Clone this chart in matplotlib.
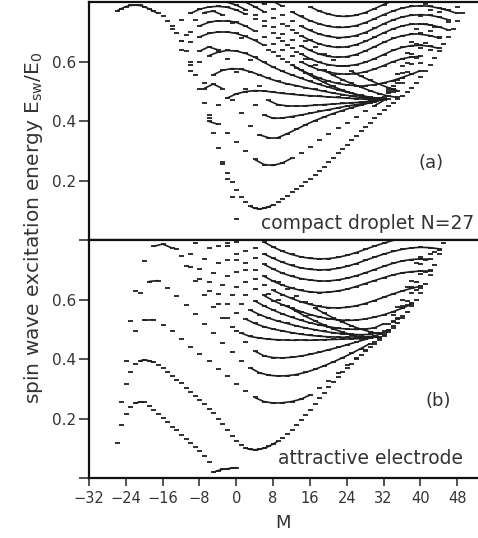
import numpy as np
import matplotlib.pyplot as plt
from matplotlib.collections import LineCollection

# x ticks (angular momentum M) and y ticks (E_sw / E_0)
m_ticks = [-32, -24, -16, -8, 0, 8, 16, 24, 32, 40, 48]
e_ticks = [0, 0.2, 0.4, 0.6]

# ---- panel (a): compact droplet N=27 ----
# each curve: first M, M step, energies
a0 = [0.770, 0.778, 0.785, 0.789, 0.790, 0.789, 0.785, 0.778, 0.770, 0.762, 0.752, 0.738, 0.720, 0.697,
      0.668, 0.635, 0.598, 0.555, 0.510, 0.462, 0.412, 0.360, 0.310, 0.258, 0.205, 0.145, 0.072]
a1 = [0.262, 0.228, 0.196, 0.170, 0.147, 0.128, 0.115, 0.108, 0.106, 0.108, 0.113, 0.120, 0.130, 0.140,
      0.151, 0.162, 0.173, 0.184, 0.196, 0.208, 0.221, 0.234, 0.248, 0.262, 0.277, 0.292, 0.307, 0.322,
      0.337, 0.352, 0.367, 0.382, 0.396, 0.410, 0.424, 0.437, 0.450, 0.462, 0.474, 0.486, 0.499, 0.513,
      0.530, 0.549, 0.569, 0.590, 0.612, 0.635, 0.659, 0.684, 0.710, 0.737, 0.765]
a2 = [0.40, 0.39, 0.36, 0.33, 0.30, 0.272, 0.255, 0.252, 0.26, 0.276, 0.295, 0.315, 0.336, 0.356, 0.376,
      0.395, 0.414, 0.433, 0.452, 0.47, 0.497, 0.527, 0.56, 0.597, 0.638, 0.683, 0.732, 0.785]
a3 = [0.51, 0.525, 0.51, 0.472, 0.428, 0.385, 0.355, 0.345, 0.345, 0.358, 0.373, 0.388, 0.402, 0.414, 0.426,
      0.436, 0.446, 0.454, 0.462, 0.47, 0.495, 0.528, 0.567, 0.612, 0.662, 0.717, 0.777, 0.84]
a4 = [0.59, 0.635, 0.65, 0.64, 0.61, 0.565, 0.51, 0.455, 0.422, 0.41, 0.411, 0.416, 0.421, 0.427, 0.433,
      0.439, 0.445, 0.451, 0.456, 0.461, 0.466, 0.474, 0.505, 0.545, 0.592, 0.645, 0.704, 0.768, 0.835]
a5 = [0.69, 0.74, 0.765, 0.77, 0.757, 0.73, 0.68, 0.605, 0.52, 0.47, 0.456, 0.452, 0.451, 0.452, 0.454,
      0.456, 0.458, 0.46, 0.462, 0.464, 0.467, 0.47, 0.497, 0.54, 0.595, 0.658, 0.728, 0.80]
a6 = [0.42, 0.455, 0.478, 0.492, 0.50, 0.503, 0.502, 0.498, 0.494, 0.491, 0.488, 0.486, 0.484, 0.482, 0.48,
      0.478, 0.476, 0.474, 0.472, 0.475, 0.51, 0.562, 0.625, 0.697, 0.775, 0.855]
a7 = [0.528, 0.556, 0.571, 0.577, 0.575, 0.567, 0.556, 0.544, 0.534, 0.526, 0.52, 0.513, 0.507, 0.501, 0.495,
      0.49, 0.485, 0.48, 0.476, 0.474, 0.505, 0.56, 0.63, 0.71, 0.795]
a8 = [0.57, 0.60, 0.62, 0.632, 0.638, 0.636, 0.628, 0.615, 0.598, 0.582, 0.568, 0.556, 0.545, 0.534, 0.524,
      0.515, 0.506, 0.498, 0.49, 0.483, 0.477, 0.48, 0.52, 0.585, 0.665, 0.755, 0.85]
a9 = [0.64, 0.665, 0.683, 0.695, 0.70, 0.70, 0.695, 0.685, 0.672, 0.655, 0.632, 0.61, 0.59, 0.573, 0.558,
      0.545, 0.535, 0.527, 0.522, 0.52, 0.52, 0.523, 0.529, 0.537, 0.547, 0.558, 0.57]
a10 = [0.67, 0.70, 0.72, 0.732, 0.738, 0.738, 0.732, 0.72, 0.703, 0.683, 0.66, 0.638, 0.618, 0.60, 0.585,
       0.573, 0.565, 0.56, 0.558, 0.56, 0.566, 0.575, 0.587, 0.60, 0.61, 0.616, 0.618]
a11 = [0.71, 0.74, 0.762, 0.776, 0.784, 0.786, 0.783, 0.774, 0.76, 0.742, 0.72, 0.695, 0.67, 0.647, 0.627,
       0.61, 0.598, 0.59, 0.586, 0.586, 0.59, 0.598, 0.61, 0.624, 0.638, 0.648, 0.654, 0.655, 0.652, 0.645]
a12 = [0.80, 0.805, 0.805, 0.80, 0.79, 0.775, 0.757, 0.737, 0.715, 0.693, 0.672, 0.654, 0.638, 0.626, 0.618,
       0.615, 0.617, 0.624, 0.636, 0.65, 0.665, 0.678, 0.687, 0.692, 0.692, 0.688, 0.68]
a13 = [0.815, 0.815, 0.81, 0.80, 0.785, 0.768, 0.748, 0.727, 0.706, 0.688, 0.672, 0.66, 0.652, 0.648, 0.65,
       0.657, 0.668, 0.682, 0.697, 0.71, 0.72, 0.726, 0.727, 0.724, 0.717, 0.707]
a14 = [0.83, 0.822, 0.81, 0.795, 0.777, 0.757, 0.738, 0.72, 0.705, 0.693, 0.685, 0.681, 0.682, 0.688, 0.698,
       0.712, 0.727, 0.74, 0.75, 0.756, 0.758, 0.756, 0.75, 0.741]
a15 = [0.83, 0.818, 0.803, 0.786, 0.768, 0.752, 0.738, 0.727, 0.719, 0.715, 0.716, 0.721, 0.731, 0.744,
       0.758, 0.77, 0.78, 0.786, 0.788, 0.786, 0.78, 0.772, 0.762]
a16 = [0.83, 0.805, 0.785, 0.77, 0.76, 0.753, 0.752, 0.756, 0.765, 0.778, 0.792, 0.805]
# steeper states crossing the dense region above the focus
a17 = [0.64, 0.62, 0.60, 0.58, 0.563, 0.546, 0.531, 0.517, 0.505, 0.495, 0.487, 0.481, 0.477, 0.475]
a18 = [0.68, 0.655, 0.632, 0.61, 0.59, 0.572, 0.555, 0.54, 0.527, 0.515, 0.503, 0.493, 0.485, 0.48]
a19 = [0.72, 0.695, 0.671, 0.648, 0.626, 0.605, 0.586, 0.568, 0.552, 0.538, 0.525, 0.513, 0.503]

# ---- panel (b): attractive electrode ----
b0 = [0.118, 0.18, 0.217, 0.24, 0.252, 0.257, 0.256, 0.243, 0.229, 0.215, 0.202, 0.188, 0.174, 0.161,
      0.147, 0.133, 0.119, 0.105, 0.091, 0.076, 0.055, 0.02, 0.026, 0.03, 0.032, 0.034, 0.036]
b1 = [0.255, 0.318, 0.358, 0.383, 0.395, 0.398, 0.396, 0.390, 0.381, 0.370, 0.358, 0.345, 0.332, 0.319,
      0.305, 0.291, 0.277, 0.263, 0.249, 0.234, 0.218, 0.201, 0.183, 0.163, 0.143, 0.125, 0.111, 0.102,
      0.097, 0.096, 0.097, 0.101, 0.107, 0.115, 0.124, 0.135, 0.148, 0.162, 0.178, 0.195, 0.213, 0.231,
      0.250, 0.269, 0.288, 0.306, 0.323, 0.340, 0.356, 0.371, 0.386, 0.400, 0.414, 0.427, 0.440, 0.452,
      0.465, 0.478, 0.492, 0.507, 0.523, 0.540, 0.558, 0.578, 0.600, 0.624, 0.652, 0.684, 0.718, 0.754, 0.790]
b2 = [0.395, 0.495, 0.532, 0.533, 0.515, 0.496, 0.47, 0.443, 0.418, 0.393, 0.368, 0.343, 0.317, 0.293,
      0.272, 0.258, 0.253, 0.254, 0.258, 0.266, 0.28, 0.303, 0.328, 0.354, 0.38, 0.406, 0.432, 0.457,
      0.483, 0.512, 0.546, 0.59, 0.64, 0.70, 0.768, 0.84]
b3 = [0.53, 0.625, 0.662, 0.665, 0.64, 0.612, 0.583, 0.552, 0.52, 0.488, 0.456, 0.425, 0.396, 0.372, 0.355,
      0.347, 0.344, 0.345, 0.349, 0.356, 0.366, 0.378, 0.391, 0.405, 0.42, 0.436, 0.453, 0.472, 0.5, 0.537,
      0.582, 0.635, 0.695, 0.76, 0.83]
b4 = [0.63, 0.73, 0.78, 0.788, 0.775, 0.748, 0.712, 0.672, 0.63, 0.585, 0.54, 0.497, 0.458, 0.428, 0.412,
      0.406, 0.405, 0.407, 0.411, 0.417, 0.424, 0.432, 0.44, 0.449, 0.458, 0.467, 0.477, 0.495, 0.528, 0.572,
      0.625, 0.687, 0.755, 0.83]
b5 = [0.77, 0.715, 0.665, 0.617, 0.575, 0.538, 0.509, 0.489, 0.477, 0.472, 0.468, 0.466, 0.465, 0.464, 0.464,
      0.465, 0.466, 0.467, 0.468, 0.469, 0.47, 0.472, 0.476, 0.5, 0.54, 0.595, 0.66, 0.735, 0.815]
b6 = [0.81, 0.755, 0.705, 0.66, 0.62, 0.585, 0.557, 0.536, 0.521, 0.51, 0.502, 0.496, 0.49, 0.485, 0.481,
      0.478, 0.476, 0.475, 0.474, 0.474, 0.475, 0.478, 0.49, 0.525, 0.578, 0.645, 0.722, 0.805]
b7 = [0.79, 0.738, 0.69, 0.65, 0.615, 0.587, 0.566, 0.551, 0.539, 0.529, 0.521, 0.513, 0.506, 0.5, 0.494,
      0.49, 0.486, 0.484, 0.483, 0.484, 0.49, 0.52, 0.575, 0.645, 0.725, 0.81]
b8 = [0.83, 0.775, 0.725, 0.68, 0.645, 0.618, 0.597, 0.58, 0.566, 0.553, 0.542, 0.532, 0.523, 0.516, 0.51,
      0.505, 0.502, 0.501, 0.502, 0.506, 0.52, 0.55, 0.6, 0.665, 0.745, 0.83]
b9 = [0.83, 0.78, 0.735, 0.695, 0.662, 0.636, 0.615, 0.598, 0.584, 0.572, 0.561, 0.551, 0.543, 0.537, 0.533,
      0.531, 0.532, 0.536, 0.542, 0.55, 0.56, 0.572, 0.585]
b10 = [0.83, 0.78, 0.735, 0.70, 0.672, 0.65, 0.632, 0.618, 0.605, 0.594, 0.585, 0.578, 0.574, 0.573, 0.575,
       0.58, 0.588, 0.598, 0.609, 0.62, 0.63, 0.639, 0.646]
b11 = [0.83, 0.79, 0.755, 0.725, 0.70, 0.68, 0.663, 0.65, 0.64, 0.632, 0.627, 0.625, 0.626, 0.63, 0.636,
       0.645, 0.655, 0.665, 0.675, 0.684, 0.691, 0.695, 0.697, 0.697]
b12 = [0.83, 0.795, 0.765, 0.74, 0.72, 0.704, 0.69, 0.68, 0.672, 0.667, 0.664, 0.664, 0.667, 0.673, 0.681,
       0.691, 0.702, 0.713, 0.723, 0.731, 0.736, 0.738, 0.737]
b13 = [0.83, 0.80, 0.775, 0.755, 0.74, 0.727, 0.716, 0.708, 0.703, 0.701, 0.702, 0.706, 0.713, 0.722, 0.733,
       0.744, 0.754, 0.763, 0.77, 0.775, 0.777, 0.776, 0.772]
b14 = [0.82, 0.795, 0.778, 0.764, 0.753, 0.745, 0.74, 0.738, 0.739, 0.743, 0.75, 0.759, 0.77, 0.781, 0.791,
       0.80, 0.807]
b15 = [0.62, 0.60, 0.58, 0.562, 0.545, 0.53, 0.516, 0.503, 0.492, 0.483, 0.476, 0.472]
b16 = [0.66, 0.636, 0.613, 0.592, 0.573, 0.556, 0.54, 0.526, 0.513, 0.502, 0.493, 0.486]

curves_a = [(-26, 1, a0), (-3, 1, a1), (-6, 2, a2), (-7, 2, a3), (-10, 2, a4), (-11, 2, a5),
            (-6, 2, a6), (-7, 2, a7), (-10, 2, a8), (-12, 2, a9), (-12, 2, a10), (-14, 2, a11),
            (-8, 2, a12), (-4, 2, a13), (0, 2, a14), (4, 2, a15), (12, 2, a16),
            (7, 2, a17), (9, 2, a18), (11, 2, a19)]
curves_b = [(-26, 1, b0), (-25, 1, b1), (-24, 2, b2), (-23, 2, b3), (-22, 2, b4), (-13, 2, b5),
            (-12, 2, b6), (-9, 2, b7), (-8, 2, b8), (-6, 2, b9), (-4, 2, b10), (-4, 2, b11),
            (-2, 2, b12), (0, 2, b13), (4, 2, b14), (7, 2, b15), (9, 2, b16)]

INK = '#1e1e1e'
TXT = '#333333'


def draw_levels(ax, curves):
    # every state is a short dash; nearly flat stretches read as a solid line
    segs = []
    for start, step, vals in curves:
        m = start + step * np.arange(len(vals))
        e = np.asarray(vals)
        ax.plot(m, e, ls='none', marker='_', ms=3.6, mew=1.3, color=INK)
        flat = np.abs(np.diff(e)) / step < 0.009
        for i in np.where(flat)[0]:
            segs.append([(m[i], e[i]), (m[i + 1], e[i + 1])])
    ax.add_collection(LineCollection(segs, colors=INK, linewidths=1.2))


fig = plt.figure(figsize=(4.78, 5.38), dpi=100)
ax_a = fig.add_axes([0.186, 0.553, 0.814, 0.443])
ax_b = fig.add_axes([0.186, 0.111, 0.814, 0.442])

draw_levels(ax_a, curves_a)
draw_levels(ax_b, curves_b)

for ax in (ax_a, ax_b):
    ax.set_xlim(-32, 52.5)
    ax.set_ylim(0, 0.8)
    ax.spines['right'].set_visible(False)
    for side in ('left', 'top', 'bottom'):
        ax.spines[side].set_linewidth(1.6)
        ax.spines[side].set_color('#111111')
    ax.set_yticks(e_ticks)
    ax.set_yticklabels([''] + ['%.1f' % v for v in e_ticks[1:]])
    ax.tick_params(axis='y', direction='out', length=7, width=1.2, labelsize=11,
                   pad=2, colors=TXT)

ax_a.tick_params(axis='x', bottom=False, labelbottom=False)
ax_b.set_xticks(m_ticks)
ax_b.set_xticklabels([str(t).replace('-', '\u2212') for t in m_ticks])
ax_b.tick_params(axis='x', direction='out', length=6, width=1.2, labelsize=10.5,
                 pad=3, colors=TXT)
ax_b.set_xlabel('M', fontsize=13, color=TXT, labelpad=6)

ax_a.text(0.88, 0.325, '(a)', transform=ax_a.transAxes, fontsize=13, ha='center', va='center', color=TXT)
ax_a.text(0.99, 0.05, 'compact droplet N=27', transform=ax_a.transAxes, fontsize=13.5,
          ha='right', va='baseline', color=TXT)
ax_b.text(0.898, 0.326, '(b)', transform=ax_b.transAxes, fontsize=13, ha='center', va='center', color=TXT)
ax_b.text(0.962, 0.06, 'attractive electrode', transform=ax_b.transAxes, fontsize=13.5,
          ha='right', va='baseline', color=TXT)

fig.text(0.07, 0.577, r'spin wave excitation energy $\mathregular{E_{sw}/E_0}$', rotation=90,
         ha='center', va='center', fontsize=14.5, color=TXT)

fig.savefig('out.png', dpi=100)
